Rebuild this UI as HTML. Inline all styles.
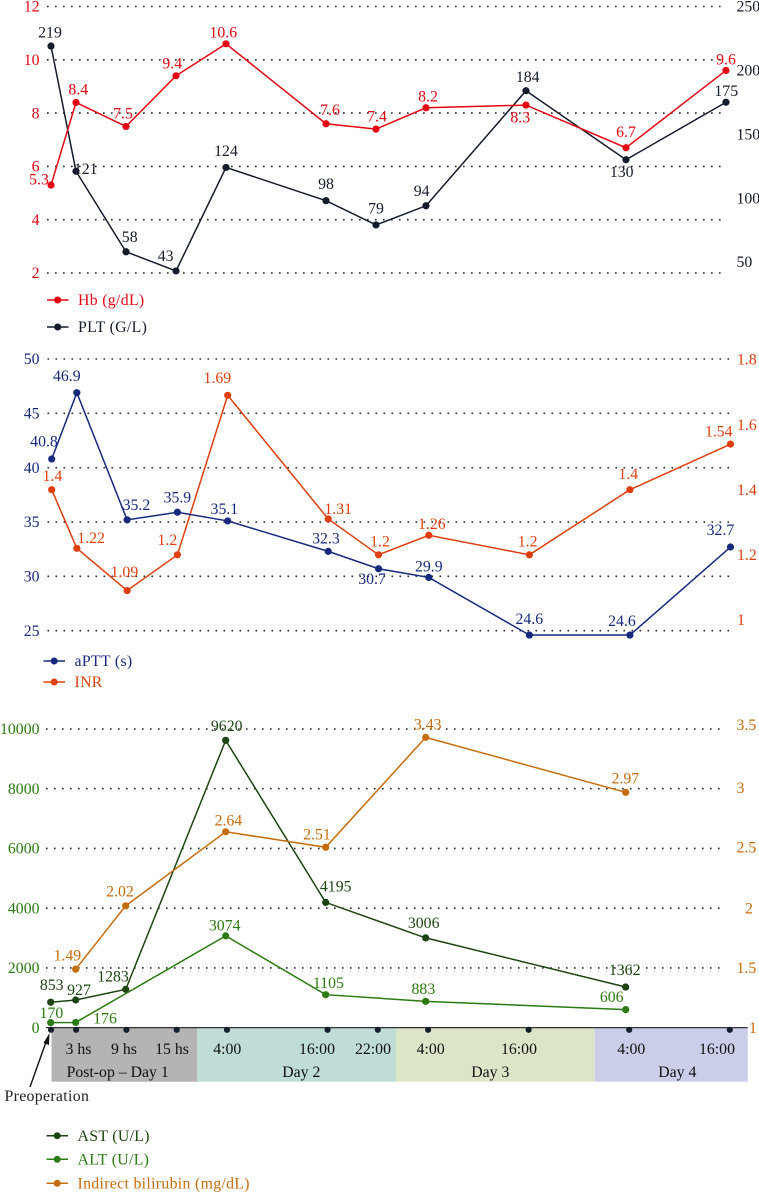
<!DOCTYPE html>
<html lang="en">
<head>
<meta charset="utf-8">
<title>Postoperative laboratory trends</title>
<style>
html,body{margin:0;padding:0;background:#fff;width:759px;height:1192px;overflow:hidden}
svg{display:block}
text{font-family:"Liberation Serif",serif;font-size:15.8px}
</style>
</head>
<body>
<svg id="chart" xmlns="http://www.w3.org/2000/svg" width="759" height="1192" viewBox="0 0 759 1192"></svg>
<script>
// Sampling times, hours after surgery
const hours = [0, 3, 9, 15, 21, 33, 39, 45, 57, 69, 81];

// Panel 1
const hbValues = [5.3, 8.4, 7.5, 9.4, 10.6, 7.6, 7.4, 8.2, 8.3, 6.7, 9.6];
const pltValues = [219, 121, 58, 43, 124, 98, 79, 94, 184, 130, 175];
const hbTicks = [12, 10, 8, 6, 4, 2];
const pltTicks = [250, 200, 150, 100, 50];

// Panel 2
const apttValues = [40.8, 46.9, 35.2, 35.9, 35.1, 32.3, 30.7, 29.9, 24.6, 24.6, 32.7];
const inrValues = [1.4, 1.22, 1.09, 1.2, 1.69, 1.31, 1.2, 1.26, 1.2, 1.4, 1.54];
const apttTicks = [50, 45, 40, 35, 30, 25];
const inrTicks = ['1.8', '1.6', '1.4', '1.2', '1'];

// Panel 3
const astValues = [853, 927, 1283, null, 9620, 4195, null, 3006, null, 1362, null];
const altValues = [170, 176, null, null, 3074, 1105, null, 883, null, 606, null];
const biliValues = [null, 1.49, 2.02, null, 2.64, 2.51, null, 3.43, null, 2.97, null];
const enzymeTicks = [10000, 8000, 6000, 4000, 2000, 0];
const biliTicks = ['3.5', '3', '2.5', '2', '1.5', '1'];

// Timeline text
const timeLabels = ['3 hs', '9 hs', '15 hs', '4:00', '16:00', '22:00', '4:00', '16:00', '4:00', '16:00'];
const dayLabels = ['Post-op – Day 1', 'Day 2', 'Day 3', 'Day 4'];

// Hand placement of printed value labels (label centre relative to its point)
const hbOff = [[-12,-6],[2.3,-13],[-3,-13],[-3.7,-12.7],[-2.7,-11.7],[4,-14],[1,-13],[2,-11.7],[-5.7,12],[0,-15.7],[0,-11.3]];
const pltOff = [[-1,-13.7],[9.7,-2.3],[3.7,-15],[-10.3,-15.3],[0,-16.7],[0,-17],[0,-16.7],[-4.3,-15],[1.7,-14],[-4.3,12],[0.3,-11.7]];
const apttOff = [[-7.7,-17.7],[-10,-17],[9.3,-15],[0,-14.7],[-3.3,-12],[-2.3,-13],[-6.5,10],[0,-11.3],[0,-16],[-8,-14],[-10,-17]];
const inrOff = [[0.7,-13.7],[14.3,-10.3],[-2.7,-18.7],[-10,-15],[-10.3,-17.3],[10,-10.3],[1.5,-13.7],[3,-11.7],[-1.7,-13.7],[-1.7,-15.7],[-11.7,-13]];
const astOff = [[1,-17.3],[3.3,-10],[-12.7,-13.3],null,[1,-14.7],[10,-16.3],null,[-2,-15],null,[-1,-17.3],null];
const altOff = [[0.7,-9.7],[29.3,-4.3],null,null,[-1,-10.7],[2.7,-11.7],null,[-2.3,-12.7],null,[-14,-13],null];
const biliOff = [null,[-8.3,-14],[-5.7,-14.7],null,[2.7,-11.7],[-8.7,-13],null,[2,-13.3],null,[-0.3,-14],null];

const NS = 'http://www.w3.org/2000/svg';
const root = document.getElementById('chart');

function make(tag, attrs, text) {
  const el = document.createElementNS(NS, tag);
  for (const k in attrs) el.setAttribute(k, attrs[k]);
  if (text !== undefined) el.textContent = text;
  root.appendChild(el);
  return el;
}

function label(x, cy, str, color, anchor, name) {
  const el = make('text', {x: x, y: cy + 5.2, fill: color, 'text-anchor': anchor}, str);
  
  
  return el;
}

function linear(v0, y0, v1, y1) {
  return v => y0 + (v - v0) * (y1 - y0) / (v1 - v0);
}

function drawGrid(yFn, ticks, x0, x1, prefix) {
  ticks.forEach(t => {
    const ln = make('line', {x1: x0, x2: x1, y1: yFn(+t), y2: yFn(+t), stroke: '#2a2a2a', 'stroke-width': 1.6, 'stroke-dasharray': '1.6 6.4'});
    
    
  });
}

function drawSeries(values, xFn, yFn, offs, color, name) {
  const pts = [];
  values.forEach((v, i) => { if (v !== null) pts.push([xFn(hours[i]), yFn(v), v, offs[i]]); });
  const line = make('polyline', {points: pts.map(p => p[0] + ',' + p[1]).join(' '), fill: 'none', stroke: color, 'stroke-width': 1.5});
  
  
  pts.forEach(p => {
    const c = make('circle', {cx: p[0], cy: p[1], r: 3.6, fill: color});
    
    
  });
  return pts;
}

function drawValueLabels(pts, color, name) {
  pts.forEach(p => {
    label(p[0] + p[3][0], p[1] + p[3][1], String(p[2]), color, 'middle', name + '-value-label');
  });
}

function legendEntry(x, y, str, color, name) {
  const l = make('line', {x1: x, x2: x + 21.5, y1: y, y2: y, stroke: color, 'stroke-width': 1.5});
  
  
  const c = make('circle', {cx: x + 10.7, cy: y, r: 3.5, fill: color});
  
  
  const t = label(x + 31, y, str, color, 'start', name + '-legend-label');
  t.setAttribute('letter-spacing', '0.32');
}

const RED = '#e30613', INK = '#141b2b', BLUE = '#16297c', ORED = '#df3f0e', DGREEN = '#1d4512', GREEN = '#2c7a12', ORANGE = '#c56c0c';

/* Panel 1 */
const x1 = h => 51 + h * 8.333;
const yHb = linear(12, 6.5, 2, 273);
const yPlt = linear(250, 6.4, 50, 262);
drawGrid(yHb, hbTicks, 47, 726, 'hb');
hbTicks.forEach(t => label(39.5, yHb(t), String(t), RED, 'end', 'hb-axis-tick'));
pltTicks.forEach(t => label(736.5, yPlt(t), String(t), INK, 'start', 'plt-axis-tick'));
const pltPts = drawSeries(pltValues, x1, yPlt, pltOff, INK, 'plt');
const hbPts = drawSeries(hbValues, x1, yHb, hbOff, RED, 'hb');
drawValueLabels(pltPts, INK, 'plt');
drawValueLabels(hbPts, RED, 'hb');
legendEntry(47, 300, 'Hb (g/dL)', RED, 'hb');
legendEntry(47, 327, 'PLT (G/L)', INK, 'plt');

/* Panel 2 */
const x2 = h => 51.7 + h * 8.38;
const yAptt = linear(50, 359, 25, 630.7);
const yInr = linear(1.8, 359.5, 1, 619.9);
drawGrid(yAptt, apttTicks, 47.5, 735, 'aptt');
apttTicks.forEach(t => label(39.5, yAptt(t), String(t), BLUE, 'end', 'aptt-axis-tick'));
inrTicks.forEach(t => label(737, yInr(+t), t, ORED, 'start', 'inr-axis-tick'));
const inrPts = drawSeries(inrValues, x2, yInr, inrOff, ORED, 'inr');
const apttPts = drawSeries(apttValues, x2, yAptt, apttOff, BLUE, 'aptt');
drawValueLabels(inrPts, ORED, 'inr');
drawValueLabels(apttPts, BLUE, 'aptt');
legendEntry(43.5, 661, 'aPTT (s)', BLUE, 'aptt');
legendEntry(43.5, 682, 'INR', ORED, 'inr');

/* Timeline bands */
const bandEdges = [[51.5, 197, '#b5b3b4'], [197, 396, '#bfdcd7'], [396, 594.7, '#dde5c8'], [594.7, 747.7, '#cbcee8']];
bandEdges.forEach(b => {
  const r = make('rect', {x: b[0], y: 1028, width: b[1] - b[0], height: 53.7, fill: b[2]});
  
  
});
const axisLine = make('line', {x1: 46, x2: 747.7, y1: 1027.6, y2: 1027.6, stroke: '#333', 'stroke-width': 1.2});


const xBand = h => 51 + h * 8.38;
hours.forEach(h => {
  const d = make('circle', {cx: xBand(h), cy: 1029.8, r: 3.1, fill: '#15202f'});
  
  
});
const timeCenters = [78.5, 124, 172, 227.3, 317, 373, 430.7, 519, 631.3, 717];
timeLabels.forEach((s, i) => {
  label(timeCenters[i], 1049, s, '#111', 'middle', 'time-label');
});
const dayCenters = [117.7, 301.3, 490.3, 677.3];
dayLabels.forEach((s, i) => {
  label(dayCenters[i], 1072, s, '#111', 'middle', 'day-label');
});

/* Panel 3 */
const x3 = h => 50.7 + h * 8.333;
const yEnz = linear(10000, 729, 0, 1027.7);
const yBili = linear(3.5, 729, 1, 1027.7);
drawGrid(yEnz, enzymeTicks.slice(0, 5), 46, 725, 'enzyme');
enzymeTicks.forEach(t => label(39.5, yEnz(t), String(t), GREEN, 'end', 'enzyme-axis-tick'));
const biliTickX = [736.5, 736.5, 736.5, 745, 736.5, 749];
const biliTickDy = [-4, -1, -1, 0, 0, 0];
biliTicks.forEach((t, i) => label(biliTickX[i], yBili(+t) + biliTickDy[i], t, ORANGE, 'start', 'bilirubin-axis-tick'));
const astPts = drawSeries(astValues, x3, yEnz, astOff, DGREEN, 'ast');
const altPts = drawSeries(altValues, x3, yEnz, altOff, GREEN, 'alt');
const biliPts = drawSeries(biliValues, x3, yBili, biliOff, ORANGE, 'bilirubin');
drawValueLabels(astPts, DGREEN, 'ast');
drawValueLabels(altPts, GREEN, 'alt');
drawValueLabels(biliPts, ORANGE, 'bilirubin');
legendEntry(46.5, 1135.7, 'AST (U/L)', DGREEN, 'ast');
legendEntry(46.5, 1159.3, 'ALT (U/L)', GREEN, 'alt');
legendEntry(46.5, 1183.3, 'Indirect bilirubin (mg/dL)', ORANGE, 'bilirubin');

/* Preoperation annotation */
const arrowShaft = make('line', {x1: 30, y1: 1087, x2: 46, y2: 1042, stroke: '#111', 'stroke-width': 1.4});


const arrowHead = make('polygon', {points: '49.5,1033 43.5,1043 49,1045', fill: '#111'});


const preop = label(4.5, 1096, 'Preoperation', '#222', 'start', 'preoperation-label');
preop.setAttribute('letter-spacing', '0.33');
</script>
</body>
</html>
